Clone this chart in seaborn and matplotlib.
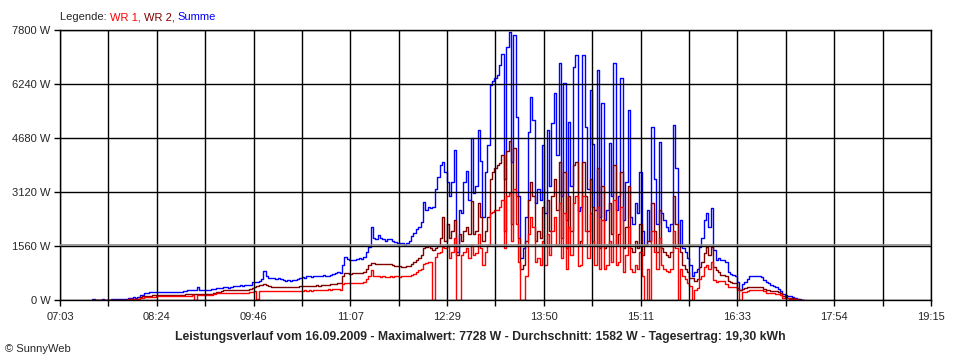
import numpy as np
import pandas as pd
import matplotlib
matplotlib.use("Agg")
import matplotlib.pyplot as plt
import seaborn as sns

# Leistungsverlauf 16.09.2009, 2-min values from 07:30 on
start_time = "07:30"
step_min = 2

summe = [
    20, 0, 0, 0, 20,                # 07:30
    0, 0, 0, 20, 30,                # 07:40
    30, 30, 30, 30, 40,             # 07:50
    70, 70, 80, 70, 90,             # 08:00
    145, 150, 190, 200, 220,        # 08:10
    230, 240, 240, 240, 240,        # 08:20
    240, 245, 240, 240, 245,        # 08:30
    240, 240, 245, 250, 260,        # 08:40
    290, 290, 300, 290, 375,        # 08:50
    290, 280, 290, 290, 295,        # 09:00
    320, 330, 360, 350, 360,        # 09:10
    370, 380, 360, 390, 400,        # 09:20
    400, 410, 420, 400, 430,        # 09:30
    430, 440, 530, 530, 520,        # 09:40
    560, 600, 850, 700, 630,        # 09:50
    640, 630, 620, 640, 600,        # 10:00
    580, 560, 580, 560, 570,        # 10:10
    570, 600, 640, 660, 650,        # 10:20
    680, 700, 660, 690, 700,        # 10:30
    680, 700, 720, 690, 700,        # 10:40
    720, 750, 780, 800, 790,        # 10:50
    1000, 1250, 1180, 1150, 1160,   # 11:00
    1150, 1180, 1200, 1180, 1250,   # 11:10
    1400, 1540, 2100, 1800, 1750,   # 11:20
    1880, 1800, 1750, 1700, 1750,   # 11:30
    1760, 1700, 1680, 1650, 1640,   # 11:40
    1650, 1600, 1640, 1700, 1850,   # 11:50
    1950, 2050, 2120, 2250, 2840,   # 12:00
    2600, 2700, 2650, 2700, 3200,   # 12:10
    3560, 3900, 4000, 3700, 3400,   # 12:20
    3000, 3400, 4330, 1400, 2600,   # 12:30
    2500, 3400, 3720, 2900, 4680,   # 12:40
    3100, 3300, 4910, 4010, 2400,   # 12:50
    3700, 4480, 6200, 6320, 6410,   # 13:00
    6500, 6800, 7100, 3500, 7300,   # 13:10
    7728, 4000, 7650, 5290, 3000,   # 13:20
    1210, 1500, 2400, 4850, 5860,   # 13:30
    5200, 2800, 3200, 2900, 4480,   # 13:40
    2500, 4910, 3300, 5100, 5980,   # 13:50
    4200, 6850, 3000, 6270, 2300,   # 14:00
    5150, 3300, 6730, 7080, 2570,   # 14:10
    2700, 7080, 5000, 3200, 6070,   # 14:20
    4500, 2600, 6640, 2400, 5700,   # 14:30
    2300, 2600, 4530, 3000, 6850,   # 14:40
    2600, 3000, 6410, 2300, 3400,   # 14:50
    5490, 2400, 2200, 2800, 2500,   # 15:00
    3700, 2000, 1600, 2600, 1700,   # 15:10
    5000, 3500, 2200, 4570, 2500,   # 15:20
    2300, 2100, 2000, 2200, 5050,   # 15:30
    3800, 1600, 2300, 1500, 1400,   # 15:40
    1200, 1000, 700, 800, 900,      # 15:50
    1540, 1800, 2300, 2520, 2100,   # 16:00
    2650, 1440, 1150, 1200, 1170,   # 16:10
    1170, 1100, 820, 760, 720,      # 16:20
    700, 530, 300, 450, 530,        # 16:30
    600, 680, 690, 690, 680,        # 16:40
    680, 660, 580, 520, 480,        # 16:50
    430, 400, 370, 330, 270,        # 17:00
    160, 140, 120, 110, 90,         # 17:10
    60, 30, 20, 0, 0,               # 17:20
]

wr2 = [
    0, 0, 0, 0, 0,
    0, 0, 0, 0, 0,
    0, 0, 0, 0, 10,
    30, 30, 30, 40, 40,
    100, 110, 115, 120, 120,
    140, 145, 145, 145, 145,
    145, 150, 145, 150, 150,
    150, 150, 150, 155, 160,
    175, 175, 180, 175, 180,
    175, 175, 180, 180, 180,
    180, 200, 230, 240, 260,
    280, 290, 285, 290, 295,
    290, 295, 300, 300, 300,
    300, 310, 360, 380, 400,
    420, 440, 460, 420, 400,
    390, 380, 390, 385, 380,
    380, 375, 380, 380, 385,
    385, 390, 395, 400, 400,
    400, 410, 400, 410, 420,
    410, 420, 430, 430, 440,
    450, 460, 470, 480, 490,
    700, 780, 770, 760, 770,
    770, 780, 770, 780, 800,
    900, 1000, 1070, 1060, 1050,
    1050, 1040, 1030, 1050, 1040,
    1030, 1000, 990, 980, 970,
    960, 960, 970, 990, 1050,
    1100, 1150, 1200, 1300, 1500,
    1540, 1550, 1500, 1450, 1500,
    1550, 1800, 2400, 1700, 2200,
    1800, 2000, 2300, 1300, 1900,
    1700, 2000, 2100, 1900, 2850,
    1900, 2000, 2800, 2400, 1700,
    2000, 2400, 3500, 3700, 3800,
    3900, 3950, 4200, 2000, 4300,
    4580, 2200, 4400, 3000, 1800,
    900, 1000, 1700, 2900, 3400,
    3000, 1700, 2000, 1800, 2700,
    1600, 2900, 2000, 3000, 3500,
    2600, 4000, 1800, 3700, 1500,
    3000, 2000, 3900, 4000, 1600,
    1700, 4000, 3000, 2000, 3500,
    2700, 1600, 3800, 1500, 3300,
    1500, 1600, 2800, 1900, 3900,
    1600, 1900, 3700, 1500, 2100,
    3300, 1500, 1400, 1700, 1500,
    2200, 1300, 1600, 1700, 1700,
    2800, 2000, 1400, 2600, 1500,
    1400, 1300, 1250, 1400, 3000,
    2200, 1600, 1400, 1000, 900,
    800, 650, 650, 550, 600,
    960, 1100, 1350, 1540, 1300,
    1540, 960, 870, 800, 720,
    720, 700, 560, 520, 500,
    480, 350, 300, 320, 335,
    370, 390, 390, 390, 390,
    390, 380, 330, 290, 280,
    270, 260, 250, 230, 200,
    110, 90, 70, 60, 50,
    40, 20, 10, 0, 0,
]

wr1 = [
    0, 0, 0, 0, 0,
    0, 0, 0, 0, 0,
    0, 0, 0, 0, 10,
    30, 30, 40, 30, 40,
    60, 70, 80, 80, 90,
    90, 100, 110, 110, 110,
    110, 115, 110, 115, 115,
    115, 110, 115, 115, 120,
    130, 130, 135, 0, 135,
    135, 135, 135, 140, 140,
    140, 160, 190, 200, 200,
    200, 205, 200, 210, 200,
    200, 210, 210, 205, 210,
    210, 220, 240, 250, 30,
    250, 260, 270, 270, 260,
    260, 260, 255, 265, 260,
    260, 255, 260, 260, 260,
    260, 265, 270, 270, 275,
    270, 280, 270, 280, 290,
    280, 290, 300, 300, 310,
    300, 310, 320, 330, 300,
    450, 500, 490, 480, 490,
    490, 500, 490, 500, 510,
    600, 700, 870, 700, 680,
    680, 670, 680, 660, 670,
    680, 670, 690, 680, 675,
    680, 700, 690, 700, 720,
    750, 800, 870, 900, 1050,
    1080, 1100, 1100, 0, 1250,
    1350, 1400, 1540, 1500, 1600,
    1200, 1400, 1800, 0, 0,
    1300, 1400, 1500, 1200, 1600,
    1300, 1350, 1900, 1500, 1000,
    1400, 1600, 2500, 2550, 2600,
    2600, 2700, 2900, 1500, 3000,
    3100, 1700, 3200, 2200, 1100,
    0, 0, 700, 1900, 2400,
    2100, 1100, 1200, 1000, 1700,
    1000, 1900, 1300, 2000, 2400,
    1600, 2800, 1200, 2500, 900,
    2100, 1300, 2800, 3000, 970,
    1000, 3000, 2000, 1200, 2500,
    1700, 1000, 2700, 900, 2300,
    900, 1000, 1700, 1100, 2900,
    1000, 1100, 2700, 800, 1300,
    2100, 900, 800, 1000, 900,
    1400, 700, 0, 900, 0,
    2000, 1400, 900, 1800, 1000,
    900, 850, 800, 900, 2000,
    1500, 0, 900, 700, 600,
    500, 400, 0, 300, 350,
    600, 700, 950, 1000, 900,
    1100, 580, 530, 540, 540,
    540, 450, 390, 380, 380,
    380, 290, 0, 230, 240,
    270, 290, 290, 290, 290,
    290, 280, 250, 210, 200,
    190, 190, 180, 170, 150,
    70, 60, 50, 40, 30,
    20, 10, 0, 0, 0,
]

durchschnitt = 1582
x_labels = ["07:03", "08:24", "09:46", "11:07", "12:29",
            "13:50", "15:11", "16:33", "17:54", "19:15"]
y_ticks = [0, 1560, 3120, 4680, 6240, 7800]


def to_min(s):
    h, m = s.split(":")
    return int(h) * 60 + int(m)


t0 = to_min(start_time)
minutes = t0 + step_min * np.arange(len(summe))
df = pd.DataFrame({"min": minutes, "Summe": summe, "WR 2": wr2, "WR 1": wr1})

sns.set_style("white")
plt.rcParams["font.family"] = ["Liberation Sans", "DejaVu Sans"]

fig = plt.figure(figsize=(9.6, 3.6), dpi=100)
ax = fig.add_axes([60 / 960, 60 / 360, 871 / 960, 270 / 360])

colors = {"Summe": "#0000ff", "WR 2": "#800000", "WR 1": "#ff0000"}
for col in ["Summe", "WR 2", "WR 1"]:
    sns.lineplot(data=df, x="min", y=col, color=colors[col], lw=1.0,
                 drawstyle="steps-post", estimator=None, legend=False, ax=ax)

xmin, xmax = to_min(x_labels[0]), to_min(x_labels[-1])
ax.set_xlim(xmin, xmax)
ax.set_ylim(0, 7800)
xt = np.linspace(xmin, xmax, 2 * len(x_labels) - 1)
ax.set_xticks(xt)
ax.set_xticklabels([x_labels[k // 2] if k % 2 == 0 else "" for k in range(len(xt))])
ax.set_yticks(y_ticks)
ax.set_yticklabels([f"{v} W" for v in y_ticks])
ax.set_xlabel("")
ax.set_ylabel("")

ax.grid(True, color="black", lw=1)
ax.set_axisbelow(False)
ax.axhline(durchschnitt, color="#8c8c8c", lw=1.2, zorder=3)
for sp in ax.spines.values():
    sp.set_visible(True)
    sp.set_color("black")
    sp.set_linewidth(1)
ax.tick_params(direction="out", length=4, width=1, color="black",
               labelsize=8, pad=3, left=True, bottom=True)
ax.tick_params(axis="x", pad=5)

# legend line on top
leg = fig.text(60 / 960, 1 - 17 / 360, "Legende: ", fontsize=8, va="center")
prev = leg
for txt, c in [("WR 1, ", "#ff0000"), ("WR 2, ", "#800000"), ("Summe", "#0000ff")]:
    prev = ax.annotate(txt, xy=(1, 0), xycoords=prev, va="bottom",
                       fontsize=8, color=c, annotation_clip=False)

fig.text(0.5, 1 - 337 / 360,
         "Leistungsverlauf vom 16.09.2009 - Maximalwert: 7728 W - "
         "Durchschnitt: 1582 W - Tagesertrag: 19,30 kWh",
         ha="center", va="center", fontsize=8.8, fontweight="bold")
fig.text(5 / 960, 1 - 349 / 360, "\u00a9 SunnyWeb", fontsize=8, va="center")

fig.savefig("out.png", dpi=100)
